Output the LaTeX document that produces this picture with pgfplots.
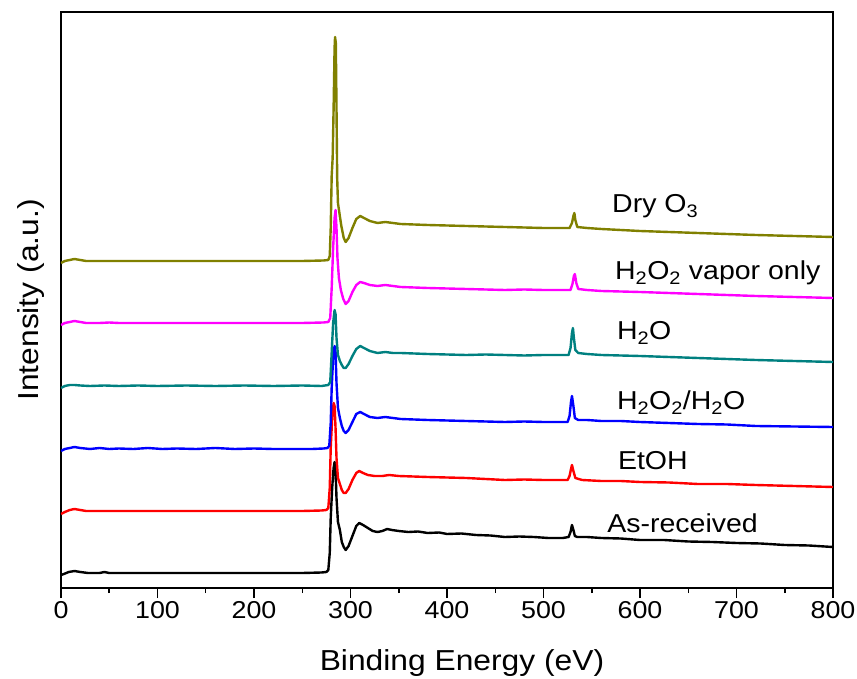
\documentclass[border=0pt]{standalone}
\usepackage{fontspec}
\setmainfont{Liberation Sans}[FakeStretch=1.1]
\usepackage{pgfplots}
\pgfplotsset{compat=1.18}

\definecolor{cOlive}{RGB}{128,128,0}
\definecolor{cMag}{RGB}{255,0,255}
\definecolor{cTeal}{RGB}{0,128,128}
\definecolor{cBlue}{RGB}{0,0,255}
\definecolor{cRed}{RGB}{255,0,0}

\begin{document}
\begin{tikzpicture}
\path[use as bounding box] (-61bp,-91bp) rectangle (796bp,588bp);
\begin{axis}[
  scale only axis, width=772bp, height=576bp,
  xmin=0, xmax=800, ymin=0, ymax=576,
  xtick={0,100,...,800}, minor x tick num=1,
  ytick=\empty,
  xtick pos=bottom,
  tick align=outside,
  major tick length=10bp, minor tick length=5bp,
  axis line style={line width=1.5bp},
  every tick/.style={line width=1.5bp, black},
  tick label style={font=\fontsize{24.5}{29}\selectfont},
  label style={font=\fontsize{29}{34}\selectfont},
  xlabel style={yshift=-24bp, xshift=15bp},
  ylabel style={yshift=3bp},
  /pgf/number format/assume math mode=true,
  xlabel={Binding Energy (eV)},
  ylabel={Intensity (a.u.)},
  every axis plot/.append style={no markers, line width=2.4bp, line join=round},
]
% As-received
\addplot[black] coordinates {
(0,13) (3,14) (8,16) (14,17) (20,16) (28,15) (40,15) (45,16) (50,15) (100,15) (150,15) (200,15) (250,15)
(270,15.5) (275,16) (277,18) (278.5,35) (279.5,70) (281,100) (282.5,120) (283.5,126) (284.5,118) (285.5,90)
(287,66) (289,58) (291,46) (293,41) (295,38) (298,42) (302,52) (306,62) (309,65) (313,63) (318,60) (323,57)
(328,56) (333,57) (338,59) (343,58) (350,57) (360,56) (370,56.5) (380,55) (392,55.5) (400,54) (415,54.5)
(430,53) (445,52.5) (460,51) (475,51.5) (490,51) (505,50) (520,50) (526,51) (528,56) (529.5,63) (531,58)
(532.5,52) (535,51) (545,51) (560,50) (580,49.5) (600,48) (625,48) (650,46.5) (675,46) (700,45) (725,44.5)
(750,43) (775,42.5) (800,41)
};
% EtOH
\addplot[cRed] coordinates {
(0,74) (4,76) (9,78) (14,79) (20,78) (26,77) (60,77) (100,77) (150,77) (200,77) (250,77) (270,77.5) (275,78)
(277,80) (278.5,100) (279.5,140) (281,170) (282.5,185) (283.5,182) (284.5,160) (285.5,130) (287,110) (289,104)
(291,98) (293,95) (295,95) (298,99) (302,108) (306,115) (309,117) (313,115) (318,113) (325,112) (333,112)
(340,113) (350,112) (365,111.5) (380,111) (400,110.5) (420,110) (440,109) (460,108) (480,108.5) (500,108)
(525,108) (527,112) (528.5,119) (529.5,123) (531,117) (533,110) (540,108) (560,107) (580,107) (600,106)
(630,105.5) (660,104) (690,104) (720,103) (760,102) (800,101)
};
% H2O2/H2O
\addplot[cBlue] coordinates {
(0,137) (4,139) (9,140) (14,141) (20,140) (30,139) (40,140) (50,139) (60,139.5) (75,139) (90,140) (105,139)
(120,139.5) (140,139) (160,140) (180,139) (200,139.5) (220,139) (240,139) (260,139) (272,139.5) (276,140)
(278,142) (279.5,165) (280.5,200) (282,230) (283.5,242) (284.5,236) (285.5,205) (287,180) (289,170) (291,162)
(293,157) (295,155) (298,158) (302,166) (306,174) (310,176) (314,174) (320,171) (328,170) (336,171) (344,170)
(352,169) (366,168.5) (380,168) (400,167.5) (420,167) (440,166.5) (460,166) (480,166.5) (500,166) (525,166)
(527,172) (528.5,186) (529.5,192) (531,182) (532.5,170) (536,168) (545,168) (560,167) (580,167) (600,166)
(630,165) (660,164) (690,163.5) (720,162) (760,161.5) (800,161)
};
% H2O
\addplot[cTeal] coordinates {
(0,200) (4,202) (9,203) (14,203) (20,202.5) (30,202) (45,202.5) (60,202) (80,202.5) (100,202) (130,202.5)
(160,202) (190,202.5) (220,202) (250,202.5) (270,202) (277,203) (279,206) (280.5,235) (282,265) (283.5,278)
(284.5,274) (285.5,250) (287,233) (289,227) (291,223) (293,220) (295,220) (298,224) (302,232) (306,239)
(310,242) (314,240) (320,237) (328,235) (336,236) (344,235) (352,235) (366,234.5) (380,234) (400,233.5)
(420,233) (440,233.5) (460,233) (480,232.5) (500,233) (526,233) (528,240) (529.5,255) (530.5,260)
(531.5,250) (533,238) (536,235) (545,234) (560,233) (580,232.5) (600,232) (630,231) (660,230) (690,229)
(720,228) (760,227) (800,226)
};
% H2O2 vapor only
\addplot[cMag] coordinates {
(0,263) (4,265) (9,266) (14,267) (20,266) (26,265) (40,265) (50,265.5) (60,265) (100,265) (150,265) (200,265)
(250,265) (272,265.5) (277,266) (279,270) (280.5,300) (282,340) (283.5,370) (284.5,378) (285.5,360) (286.5,330)
(288,310) (290,298) (292.5,289) (295,284) (298,287) (302,296) (306,303) (310,306) (314,305) (320,303) (328,302)
(336,303) (344,302) (352,301) (366,300.5) (380,300) (400,299.5) (420,299) (440,298.5) (460,298) (480,298.5)
(500,298) (528,298) (530,304) (531.5,312) (532.5,314) (534,305) (536,299) (545,298) (560,297) (580,296.5)
(600,296) (630,295) (660,294) (690,293) (720,292) (760,291) (800,290)
};
% Dry O3
\addplot[cOlive] coordinates {
(0,325) (4,327) (9,328) (14,329) (20,328) (26,327) (60,327) (100,327) (150,327) (200,327) (250,327)
(272,327.5) (277,328) (278.5,332) (279.5,360) (280.5,412) (281.5,430) (282.5,480) (283.5,540) (284,551)
(284.8,545) (285.5,480) (286.2,410) (287,385) (288.5,375) (290.5,362) (293,350) (295,346) (298,350) (302,360)
(306,369) (310,372) (314,370) (320,367) (328,365) (336,366) (344,365) (352,364) (366,363.5) (380,363)
(400,362.5) (420,362) (440,361.5) (460,361) (480,360.5) (500,360) (527,360) (529.5,365) (531,372) (532,375)
(533,368) (535,361) (545,360) (560,359) (580,358) (600,357) (630,356) (660,355) (690,354) (720,353)
(760,352) (800,351)
};
\begin{scope}[every node/.style={anchor=base west, inner sep=0pt, font=\fontsize{26}{31}\selectfont}]
\node at (axis cs:571,375) {Dry O\textsubscript{3}};
\node at (axis cs:574,308) {H\textsubscript{2}O\textsubscript{2} vapor only};
\node at (axis cs:576,248) {H\textsubscript{2}O};
\node at (axis cs:576,178) {H\textsubscript{2}O\textsubscript{2}/H\textsubscript{2}O};
\node at (axis cs:577,118) {EtOH};
\node at (axis cs:566,56) {As-received};
\end{scope}
\end{axis}
\end{tikzpicture}
\end{document}
